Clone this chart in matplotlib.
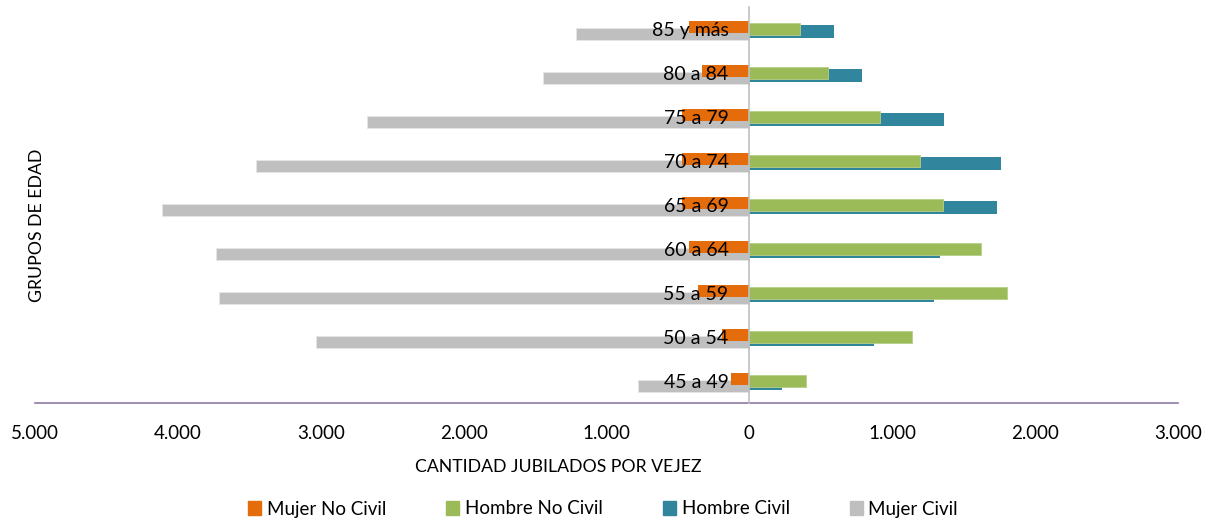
import numpy as np
import matplotlib.pyplot as plt
from matplotlib.patches import Patch
from matplotlib.ticker import FuncFormatter

plt.rcParams['font.family'] = ['Lato', 'DejaVu Sans']

# age groups, bottom to top
grupos = ['45 a 49', '50 a 54', '55 a 59', '60 a 64', '65 a 69',
          '70 a 74', '75 a 79', '80 a 84', '85 y más']

# values
mujer_no_civil = [126, 195, 363, 420, 475, 475, 475, 330, 420]
mujer_civil = [782, 3035, 3712, 3733, 4110, 3450, 2673, 1445, 1214]
hombre_no_civil = [398, 1137, 1800, 1619, 1354, 1193, 914, 551, 355]
hombre_civil = [230, 872, 1291, 1333, 1731, 1759, 1361, 789, 593]


def main():
    c_orange = '#E46C0A'
    c_green = '#9BBB59'
    c_blue = '#31859C'
    c_grey = '#BFBFBF'

    fig = plt.figure(figsize=(12.1, 5.21), dpi=100)
    ax = fig.add_axes([35 / 1210, 118 / 521, 1143 / 1210, 396 / 521])

    y = np.arange(len(grupos))
    h = 0.28

    # left side: women (negative)
    ax.barh(y - 0.115, -np.array(mujer_civil), height=h, color=c_grey,
            edgecolor='#E6E6E6', linewidth=0.6, zorder=2)
    ax.barh(y + 0.05, -np.array(mujer_no_civil), height=h, color=c_orange,
            zorder=3)
    # right side: men
    ax.barh(y - 0.055, hombre_civil, height=h, color=c_blue, zorder=2)
    ax.barh(y, hombre_no_civil, height=h, color=c_green,
            edgecolor='#B5CF86', linewidth=0.6, zorder=3)

    ax.set_xlim(-5000, 3000)
    ax.set_ylim(-0.5, len(grupos) - 0.5)

    ax.set_xticks(np.arange(-5000, 3001, 1000))
    ax.xaxis.set_major_formatter(
        FuncFormatter(lambda v, p: f'{abs(int(v)):,}'.replace(',', '.')))
    ax.tick_params(axis='x', length=0, pad=16, labelsize=13.5, colors='#000000')

    ax.set_yticks(y)
    ax.set_yticklabels(grupos)
    ax.tick_params(axis='y', length=0, pad=15, labelsize=14)
    ax.yaxis.set_zorder(6)

    ax.spines['left'].set_position(('data', 0))
    ax.spines['left'].set_color('#BFBFBF')
    ax.spines['left'].set_linewidth(1.2)
    ax.spines['left'].set_zorder(4)
    ax.spines['bottom'].set_color('#8C7AA6')
    ax.spines['bottom'].set_linewidth(1.2)
    ax.spines['top'].set_visible(False)
    ax.spines['right'].set_visible(False)

    fig.text(558 / 1210, 1 - 467 / 521, 'CANTIDAD JUBILADOS POR VEJEZ',
             ha='center', va='center', fontsize=12.7)
    fig.text(37 / 1210, 1 - 225 / 521, 'GRUPOS DE EDAD', ha='center',
             va='center', rotation=90, fontsize=12.7)

    handles = [Patch(color=c_orange), Patch(color=c_green),
               Patch(color=c_blue), Patch(color=c_grey)]
    labels = ['Mujer No Civil', 'Hombre No Civil', 'Hombre Civil', 'Mujer Civil']
    fig.legend(handles, labels, loc='center', bbox_to_anchor=(603 / 1210, 1 - 509 / 521),
               ncol=4, frameon=False, fontsize=13.5, handlelength=0.7,
               handleheight=0.7, handletextpad=0.3, columnspacing=3.2)

    fig.savefig('out.png', dpi=100)


if __name__ == "__main__":
    main()
